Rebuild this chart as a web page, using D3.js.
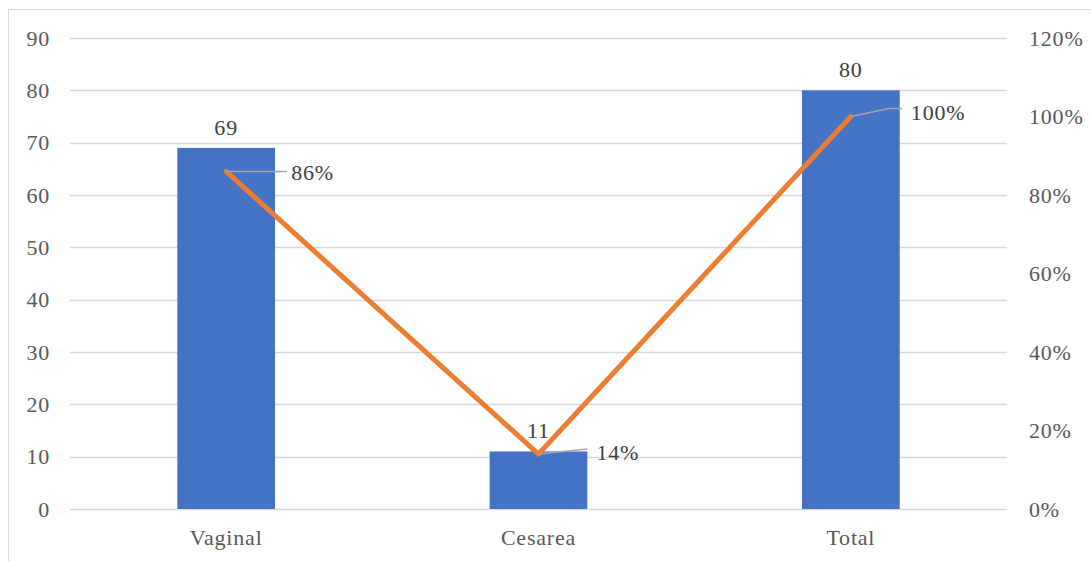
<!DOCTYPE html>
<html>
<head>
<meta charset="utf-8">
<script src="https://cdn.jsdelivr.net/npm/d3@7/dist/d3.min.js"></script>
<style>
  html, body { margin: 0; padding: 0; background: #fff; }
  svg { display: block; }
  svg text { font-family: 'Liberation Serif', 'DejaVu Serif', serif !important; letter-spacing: 0.8px; }
</style>
</head>
<body>
<svg id="chart" width="1091" height="561"></svg>
<script>
// Births by delivery type: counts (bars) and share of total (line)
const categories = ["Vaginal", "Cesarea", "Total"];
const counts = [69, 11, 80];
const shares = [86, 14, 100];
const countTicks = [0, 10, 20, 30, 40, 50, 60, 70, 80, 90];
const shareTicks = [0, 20, 40, 60, 80, 100, 120];

// Leader-line bends and label anchors for the percentage labels (pixel offsets from the point)
const shareLabelLayout = [
  { bend: [[61, 0]], text: [65, 1] },
  { bend: [[49, -5]], text: [58, -2] },
  { bend: [[38, -8], [51, -8]], text: [60, -4] }
];

const W = 1091, H = 561;
const margin = { top: 38, right: 84, bottom: 52, left: 70 };
const plotW = W - margin.left - margin.right;
const plotH = H - margin.top - margin.bottom;
const FS = 22;

const svg = d3.select("#chart");

// Outer chart frame
svg.append("rect")
  .attr("x", 8.5).attr("y", 9.5)
  .attr("width", W).attr("height", H)
  .attr("fill", "none").attr("stroke", "#d9d9d9").attr("stroke-width", 1);

const g = svg.append("g").attr("transform", `translate(${margin.left},${margin.top})`);

const x = d3.scaleBand().domain(categories).range([0, plotW]).paddingInner(0.687).paddingOuter(0.3435);
const yL = d3.scaleLinear().domain([0, 90]).range([plotH, 0]);
const yR = d3.scaleLinear().domain([0, 120]).range([plotH, 0]);

// Gridlines
g.append("g")
  .selectAll("line").data(countTicks).join("line")
  .attr("x1", 0).attr("x2", plotW)
  .attr("y1", d => Math.round(yL(d)) + 0.5).attr("y2", d => Math.round(yL(d)) + 0.5)
  .attr("stroke", "#d9d9d9").attr("stroke-width", 1.3);

function styleAxis(sel) {
  sel.select(".domain").remove();
  sel.attr("font-family", null).attr("font-size", null);
  sel.selectAll("text").attr("font-size", FS).attr("fill", "#595959");
}

// Left axis
g.append("g")
  .call(d3.axisLeft(yL).tickValues(countTicks).tickSize(0).tickPadding(20))
  .call(styleAxis);

// Right axis
g.append("g").attr("transform", `translate(${plotW},0)`)
  .call(d3.axisRight(yR).tickValues(shareTicks).tickSize(0).tickPadding(22).tickFormat(d => d + "%"))
  .call(styleAxis);

// Category axis
g.append("g").attr("transform", `translate(0,${plotH})`)
  .call(d3.axisBottom(x).tickSize(0).tickPadding(20))
  .call(styleAxis);

// Bars
g.append("g").selectAll("rect").data(counts).join("rect")
  .attr("x", (d, i) => x(categories[i]))
  .attr("y", d => yL(d))
  .attr("width", x.bandwidth())
  .attr("height", d => plotH - yL(d))
  .attr("fill", "#4472c4");

// Bar value labels
g.append("g").selectAll("text").data(counts).join("text")
  .attr("x", (d, i) => x(categories[i]) + x.bandwidth() / 2)
  .attr("y", d => yL(d) - 13)
  .attr("text-anchor", "middle")
  .attr("font-size", FS).attr("fill", "#404040")
  .text(d => d);

// Share line
const cx = i => x(categories[i]) + x.bandwidth() / 2;
const line = d3.line().x((d, i) => cx(i)).y(d => yR(d));
g.append("path").datum(shares)
  .attr("d", line)
  .attr("fill", "none").attr("stroke", "#ed7d31").attr("stroke-width", 5)
  .attr("stroke-linejoin", "round").attr("stroke-linecap", "round");

// Leader lines and percentage labels
shares.forEach((d, i) => {
  const px = cx(i), py = yR(d);
  const lay = shareLabelLayout[i];
  const pts = [[px, py]].concat(lay.bend.map(b => [px + b[0], py + b[1]]));
  g.append("path")
    .attr("d", d3.line()(pts))
    .attr("fill", "none").attr("stroke", "#a6a6a6").attr("stroke-width", 1.5);
  g.append("text")
    .attr("x", px + lay.text[0]).attr("y", py + lay.text[1])
    .attr("dy", "0.35em")
    .attr("font-size", FS).attr("fill", "#404040")
    .text(d + "%");
});
</script>
</body>
</html>
